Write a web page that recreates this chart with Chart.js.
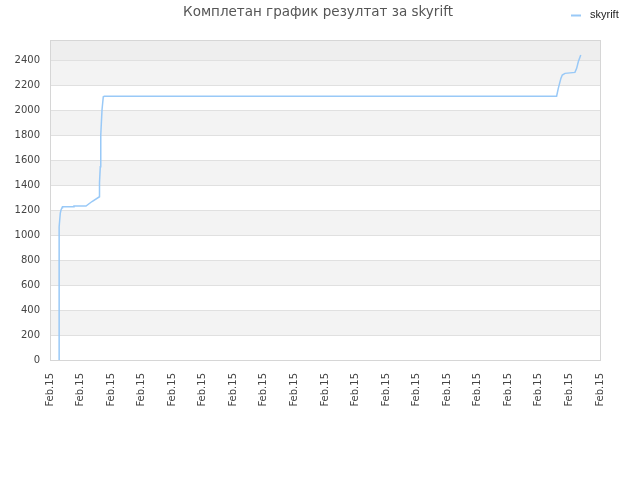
<!DOCTYPE html>
<html lang="sr">
<head>
  <meta charset="UTF-8" />
  <title>Комплетан график резултат за skyrift</title>
  <script src="https://cdn.jsdelivr.net/npm/chart.js"></script>
  <style>
    html, body { margin: 0; padding: 0; background: #fff; }
  </style>
</head>
<body>
  <canvas id="chart" width="640" height="480"></canvas>

  <script>
    // Podaci (x u jedinicama podele ose, 0..18)
    const chartTitle = 'Комплетан график резултат за skyrift';
    const seriesName = 'skyrift';
    const xTickLabel = 'Feb.15';
    const xTickCount = 18;
    const yMax = 2560;
    const yTicks = [0, 200, 400, 600, 800, 1000, 1200, 1400, 1600, 1800, 2000, 2200, 2400];

    const xs = [0.295, 0.295, 0.304, 0.337, 0.36, 0.393, 0.409, 0.763, 0.785, 1.178, 1.375, 1.62, 1.62,
                1.646, 1.646, 1.669, 1.669, 1.702, 1.744, 1.777, 16.58, 16.635, 16.72, 16.765, 16.855,
                17.18, 17.236, 17.29, 17.37];
    const ys = [0, 946, 1066, 1176, 1200, 1218, 1226, 1226, 1232, 1232, 1268, 1306, 1420,
                1546, 1600, 1680, 1800, 2000, 2106, 2110, 2110, 2173, 2253, 2280, 2293,
                2301, 2333, 2386, 2440];

    Chart.defaults.font.family = '"DejaVu Sans", sans-serif';

    // Pozadinske trake, okvir, naslov i legenda
    const bands = {
      id: 'bands',
      beforeDraw(chart) {
        const { ctx, chartArea: a, scales: { y } } = chart;
        ctx.save();
        const edges = yTicks.concat([yMax]);
        for (let i = 0; i < edges.length - 1; i++) {
          const top = y.getPixelForValue(edges[i + 1]);
          const bottom = y.getPixelForValue(edges[i]);
          if (i === edges.length - 2) ctx.fillStyle = '#eeeeee';
          else ctx.fillStyle = i % 2 === 1 ? '#f3f3f3' : '#ffffff';
          ctx.fillRect(a.left, top, a.right - a.left, bottom - top);
        }
        ctx.restore();
      },
      afterDraw(chart) {
        const { ctx, chartArea: a } = chart;
        ctx.save();
        ctx.strokeStyle = '#d6d6d6';
        ctx.lineWidth = 1;
        ctx.strokeRect(a.left + 0.5, a.top + 0.5, a.right - a.left, a.bottom - a.top);

        // naslov
        ctx.fillStyle = '#555555';
        ctx.font = '13.5px "DejaVu Sans", sans-serif';
        ctx.textAlign = 'center';
        ctx.textBaseline = 'alphabetic';
        ctx.fillText(chartTitle, 318, 16);

        // legenda
        ctx.strokeStyle = '#99c9f7';
        ctx.lineWidth = 2;
        ctx.beginPath();
        ctx.moveTo(571, 15.5);
        ctx.lineTo(581, 15.5);
        ctx.stroke();
        ctx.fillStyle = '#222222';
        ctx.font = '11px "Liberation Sans", sans-serif';
        ctx.textAlign = 'left';
        ctx.textBaseline = 'middle';
        ctx.fillText(seriesName, 590, 15);
        ctx.restore();
      }
    };

    const ctx = document.getElementById('chart').getContext('2d');
    const chart = new Chart(ctx, {
      type: 'line',
      data: {
        datasets: [{
          label: seriesName,
          data: xs.map((x, i) => ({ x: x, y: ys[i] })),
          borderColor: '#99c9f7',
          borderWidth: 1.5,
          pointRadius: 0,
          tension: 0,
          fill: false
        }]
      },
      options: {
        responsive: false,
        animation: false,
        layout: { padding: { top: 40, right: 40, left: 0, bottom: 0 } },
        plugins: {
          legend: { display: false },
          title: { display: false },
          tooltip: { enabled: false }
        },
        scales: {
          x: {
            type: 'linear',
            min: 0,
            max: xTickCount,
            afterFit(scale) { scale.height = 120; },
            grid: { display: false, drawTicks: false },
            border: { display: false },
            ticks: {
              stepSize: 1,
              autoSkip: false,
              maxRotation: 90,
              minRotation: 90,
              padding: 13,
              color: '#444444',
              font: { size: 10 },
              callback: () => xTickLabel
            }
          },
          y: {
            type: 'linear',
            min: 0,
            max: yMax,
            afterFit(scale) { scale.width = 50; },
            afterBuildTicks(scale) {
              scale.ticks = yTicks.map(v => ({ value: v }));
            },
            grid: { color: '#e0e0e0', drawTicks: false },
            border: { display: false },
            ticks: {
              autoSkip: false,
              padding: 10,
              color: '#444444',
              font: { size: 10 },
              callback: v => String(v)
            }
          }
        }
      },
      plugins: [bands]
    });
  </script>
</body>
</html>
